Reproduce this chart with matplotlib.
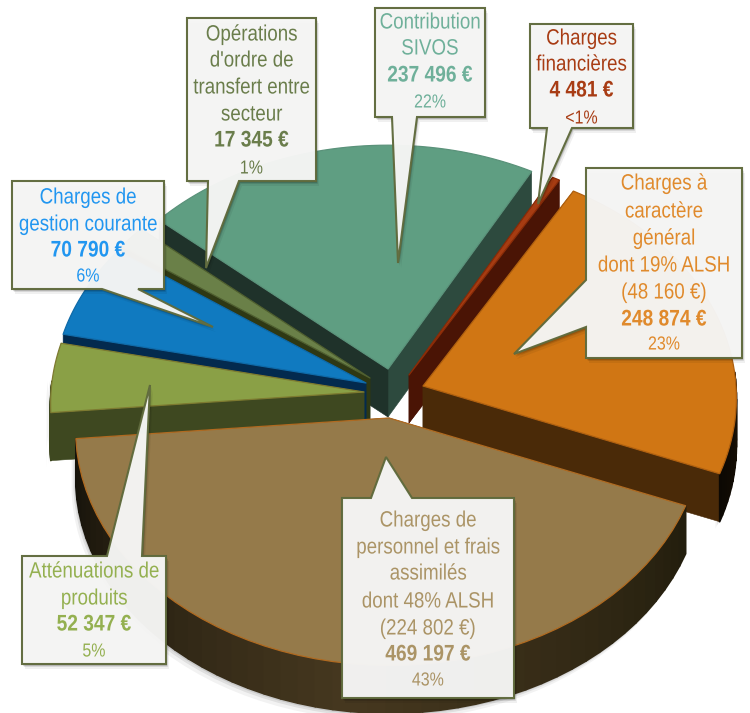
import numpy as np
import matplotlib
matplotlib.use('Agg')
import matplotlib.pyplot as plt
from matplotlib.patches import Polygon
from matplotlib.patheffects import AbstractPathEffect
from matplotlib.collections import PolyCollection
from matplotlib.colors import to_rgb
from matplotlib.transforms import Affine2D

plt.rcParams['font.family'] = ['Liberation Sans', 'DejaVu Sans']

# donnees, sens anti-horaire a partir du bas droite
names = ['charge', 'fin', 'sivos', 'ordre', 'gestion', 'attenu', 'perso']
values = [248874, 4481, 237496, 17345, 70790, 52347, 469197]
percents = ['23%', '<1%', '22%', '1%', '6%', '5%', '43%']
titles = [
    ['Charges à', 'caractère', 'général', 'dont 19% ALSH', '(48 160 €)'],
    ['Charges', 'financières'],
    ['Contribution', 'SIVOS'],
    ['Opérations', "d'ordre de", 'transfert entre', 'secteur'],
    ['Charges de', 'gestion courante'],
    ['Atténuations de', 'produits'],
    ['Charges de', 'personnel et frais', 'assimilés', 'dont 48% ALSH', '(224 802 €)'],
]

# style
start_angle = -21.5
a, b, p = 313, 235, 0.05
depth = 48
apex = dict(charge=(423, 386), fin=(409, 375), sivos=(388, 369), ordre=(370, 378),
            gestion=(366, 383), attenu=(364, 392), perso=(389, 418))
top_col = dict(charge='#d07614', fin='#a63c12', sivos='#5f9e82', ordre='#6a8048',
               gestion='#107ac0', attenu='#8aa046', perso='#957a4a')
face_col = dict(charge='#4a2a08', fin='#4a1405', sivos='#1f322a', ordre='#2e3814',
                gestion='#032a4e', attenu='#3e4820', perso='#2a2210')
face2_col = dict(sivos='#2d4a3e')
edge_col = dict(charge='#b0600f', fin='#8a2c08', sivos='#5a927a', ordre='#4f5f30',
                gestion='#0f6aa8', attenu='#7d7a30', perso='#b06a20')
rim_col = dict(charge=('#0c0803', '#3a2408'), perso=('#15120a', '#46381f', '#221d0d'),
               attenu=('#3e4820', '#3e4820'))
txt_col = dict(charge='#e08a2c', fin='#a83c14', sivos='#6fb09a', ordre='#6a7d4b',
               gestion='#2196f0', attenu='#94b050', perso='#ab9466')
# boite (x0, y0, x1, y1), pointeur (p1, pointe, p2)
boxes = dict(charge=(586, 168, 742, 358), fin=(530, 24, 633, 128), sivos=(375, 8, 485, 117),
             ordre=(187, 18, 316, 181), gestion=(12, 181, 164, 289), attenu=(22, 556, 166, 664),
             perso=(342, 498, 514, 698))
tails = dict(charge=[(586, 280), (514, 354), (586, 327)], fin=[(572, 128), (538, 204), (547, 128)],
             sivos=[(417, 117), (398, 263), (392, 117)], ordre=[(239, 181), (206, 268), (208, 181)],
             gestion=[(138, 289), (213, 327), (102, 289)], attenu=[(107, 556), (150, 385), (142, 556)],
             perso=[(371, 498), (386, 457), (412, 498)])
line_y = dict(charge=[184, 212, 239, 266, 293, 320, 344], fin=[39, 65, 91, 118],
              sivos=[23, 49, 76, 102], ordre=[35, 61, 88, 115, 141, 168],
              gestion=[198, 225, 251, 276], attenu=[572, 599, 625, 651],
              perso=[521, 548, 574, 602, 629, 655, 680])


class TallText(AbstractPathEffect):
    # la police d'origine est plus etroite : on etire le texte en hauteur
    def __init__(self, k=1.18):
        super().__init__()
        self.k = k

    def draw_path(self, renderer, gc, tpath, affine, rgbFace=None):
        renderer.draw_path(gc, tpath, Affine2D().scale(1, self.k) + affine, rgbFace)


def proj(name, deg):
    # petite perspective : l'avant du disque est plus grand
    t = np.radians(deg)
    x, y = np.cos(t), np.sin(t)
    w = 1 + p * y
    return np.column_stack([apex[name][0] + a * x / w, apex[name][1] - b * y / w])


fig = plt.figure(figsize=(7.5, 7.13), dpi=100)
ax = fig.add_axes([0, 0, 1, 1])
ax.set_xlim(0, 750)
ax.set_ylim(713, 0)
ax.axis('off')

ends = start_angle + np.cumsum(values) / np.sum(values) * 360
starts = np.r_[start_angle, ends[:-1]]
angles = {n: (s, e) for n, s, e in zip(names, starts, ends)}


def rim_colors(name, deg):
    cols = [np.array(to_rgb(c)) for c in rim_col.get(name, (face_col[name], face_col[name]))]
    s, e = angles[name]
    return cols, (deg - s) / (e - s)


def draw_slice(name):
    s, e = angles[name]
    deg = np.linspace(s, e, 50)
    arc = proj(name, deg)
    c = np.array(apex[name], float)
    down = np.array([0, depth])
    # ombre douce sous le bord avant
    front = arc[np.sin(np.radians(deg)) < 0.05]
    if name in ('perso', 'attenu', 'charge') and len(front) > 2:
        for off, al in [(7, .05), (4, .08), (2, .1)]:
            shp = np.vstack([front, (front + down + [0, off])[::-1]]) + [-off * 0.6, 0]
            ax.add_patch(Polygon(shp, fc='#000000', ec='none', alpha=al, zorder=1))
    # faces radiales
    for pt, col in [(arc[0], face2_col.get(name, face_col[name])), (arc[-1], face_col[name])]:
        ax.add_patch(Polygon([c, pt, pt + down, c + down], fc=col, ec=col, lw=0.4, zorder=2))
    # bord exterieur en degrade
    quads, cols = [], []
    for i in range(len(deg) - 1):
        if np.sin(np.radians(deg[i])) > 0.05:
            continue
        quads.append([arc[i], arc[i + 1], arc[i + 1] + down, arc[i] + down])
        stops, f = rim_colors(name, deg[i])
        xs = np.linspace(0, 1, len(stops))
        cols.append([np.interp(f, xs, [st[k] for st in stops]) for k in range(3)])
    if quads:
        ax.add_collection(PolyCollection(quads, facecolors=cols, edgecolors=cols, linewidths=1.2, zorder=2))
    # dessus
    ax.add_patch(Polygon(np.vstack([c, arc]), fc=top_col[name], ec=edge_col[name], lw=0.9,
                         joinstyle='round', zorder=2))


for n in ['sivos', 'fin', 'ordre', 'gestion', 'attenu', 'charge', 'perso']:
    draw_slice(n)


def callout(name, lines, amount, pct):
    x0, y0, x1, y1 = boxes[name]
    t1, tip, t2 = tails[name]
    if t1[0] == x0:  # pointeur sur le cote gauche
        pts = [(x0, y0), (x1, y0), (x1, y1), (x0, y1), t2, tip, t1]
    elif t1[1] == y0:  # pointeur en haut
        pts = [(x0, y0), t1, tip, t2, (x1, y0), (x1, y1), (x0, y1)]
    else:  # pointeur en bas
        pts = [(x0, y0), (x1, y0), (x1, y1), t1, tip, t2, (x0, y1)]
    pts = np.array(pts, float)
    for off, al in [(5, .06), (3, .1), (2, .14)]:
        ax.add_patch(Polygon(pts + [off * .6, off], fc='#000000', ec='none', alpha=al, zorder=5))
    ax.add_patch(Polygon(pts, fc='#f7f7f6', ec='#5f6a3c', lw=1.5, alpha=0.97, joinstyle='miter', zorder=6))
    xc = (x0 + x1) / 2
    ys = line_y[name]
    col = txt_col[name]
    tall = [TallText()]
    for txt, y in zip(lines, ys):
        ax.text(xc, y + 1, txt, ha='center', va='center', fontsize=13.5, color=col, zorder=7, path_effects=tall)
    ax.text(xc, ys[-2] + 1, amount, ha='center', va='center', fontsize=13.8, fontweight='bold', color=col,
            zorder=7, path_effects=tall)
    ax.text(xc, ys[-1] + 1, pct, ha='center', va='center', fontsize=11.5, color=col, zorder=7, path_effects=tall)


for n, title, v, pc in zip(names, titles, values, percents):
    callout(n, title, f'{v:,}'.replace(',', ' ') + ' €', pc)

fig.savefig('out.png', dpi=100)
